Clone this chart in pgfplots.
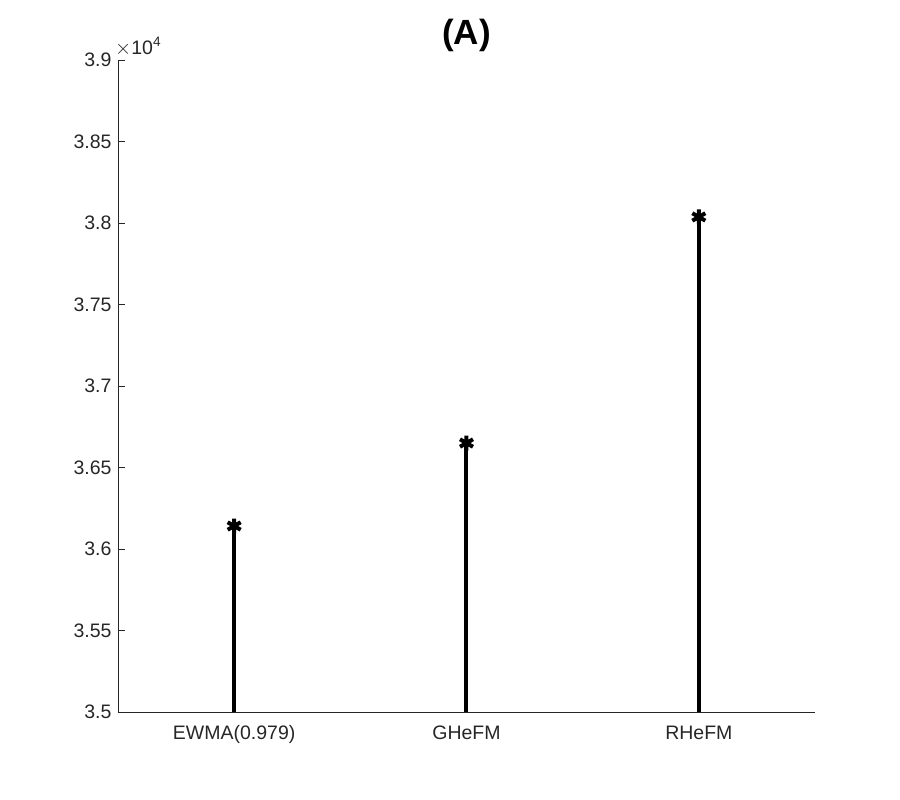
\documentclass[border=0pt]{standalone}
\usepackage{pgfplots}
\pgfplotsset{compat=1.18}
\usepackage{fontspec}
\setmainfont{Liberation Sans}
\definecolor{axgray}{gray}{0.15}
\begin{document}
\begin{tikzpicture}[x=1pt,y=1pt]
\begin{axis}[
  scale only axis,
  width=697pt, height=652pt,
  at={(0,0)}, anchor=south west,
  xmin=0.5, xmax=3.5,
  ymin=35000, ymax=39000,
  xtick={1,2,3},
  xticklabels={EWMA(0.979),GHeFM,RHeFM},
  ytick={35000,35500,36000,36500,37000,37500,38000,38500,39000},
  scaled y ticks=base 10:-4,
  ytick scale label code/.code={},
  axis x line*=bottom,
  axis y line*=left,
  axis line style={axgray, line width=0.8pt, -},
  tick style={axgray, line width=0.8pt},
  xtick align=inside,
  ytick align=inside,
  major tick length=7pt,
  tick label style={font=\fontsize{19.5}{22}\selectfont, text=axgray},
  /pgf/number format/assume math mode=true,
  /pgf/number format/precision=3,
  xticklabel style={anchor=north, text height=14pt, text depth=4pt, yshift=-10pt},
  yticklabel style={xshift=-3pt},
  clip=true,
  clip marker paths=false,
]
\addplot[ycomb, black, line width=4pt, mark=asterisk, mark size=7.5pt, mark options={line width=4pt}]
  coordinates {(1,36141) (2,36650) (3,38037)};
\end{axis}
\node[anchor=south west, text=axgray, font=\fontsize{19.5}{22}\selectfont, inner sep=0pt] at (-3pt,656pt) {$\times$10\textsuperscript{4}};
\node[font=\fontsize{35}{38}\selectfont\bfseries] at (348.5pt,677pt) {(A)};
\path[use as bounding box] (-118pt,-88pt) rectangle (782pt,712pt);
\end{tikzpicture}
\end{document}
